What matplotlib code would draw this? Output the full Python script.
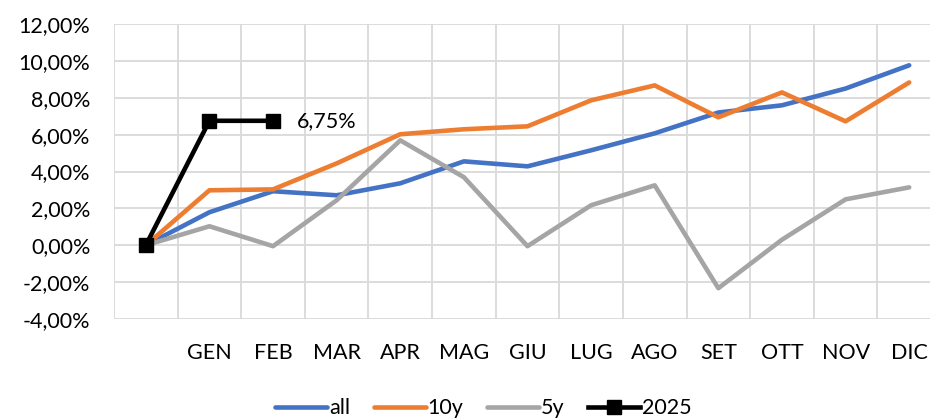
import matplotlib
matplotlib.use("Agg")
import matplotlib.pyplot as plt
from matplotlib.ticker import FuncFormatter, MultipleLocator

# -------------------- DATA --------------------
months = ["", "GEN", "FEB", "MAR", "APR", "MAG", "GIU", "LUG", "AGO", "SET", "OTT", "NOV", "DIC"]
all_vals = [0.0, 1.79, 2.93, 2.71, 3.36, 4.55, 4.28, 5.15, 6.07, 7.20, 7.59, 8.50, 9.76]
y10_vals = [0.0, 2.98, 3.03, 4.44, 6.02, 6.29, 6.45, 7.86, 8.67, 6.94, 8.29, 6.72, 8.83]
y5_vals = [0.0, 1.03, -0.05, 2.44, 5.69, 3.69, -0.05, 2.17, 3.25, -2.33, 0.30, 2.49, 3.14]
y2025_vals = [0.0, 6.75, 6.75]

plt.rcParams['font.family'] = ['Lato', 'DejaVu Sans']
FS = 15.5

fig = plt.figure(figsize=(9.3, 4.2), dpi=100)
ax = fig.add_axes([114 / 930, 1 - 319 / 420, (941 - 114) / 930, (319 - 24) / 420])

x = list(range(len(months)))
ax.plot(x, all_vals, color="#4472C4", lw=3.3, label="all", solid_capstyle="round", zorder=3)
ax.plot(x, y10_vals, color="#ED7D31", lw=3.3, label="10y", solid_capstyle="round", zorder=3)
ax.plot(x, y5_vals, color="#A5A5A5", lw=3.3, label="5y", solid_capstyle="round", zorder=3)
ax.plot(x[:len(y2025_vals)], y2025_vals, color="black", lw=3.3, marker="s", markersize=10,
        label="2025", zorder=4)

# label on last 2025 point
ax.annotate(f"{y2025_vals[-1]:.2f}%".replace(".", ","),
            (len(y2025_vals) - 1, y2025_vals[-1]), xytext=(17, 0),
            textcoords="offset points", ha="left", va="center", fontsize=FS)

# -------------------- AXES --------------------
ax.set_xlim(-0.5, len(months) - 0.5)
ax.set_ylim(-4, 12)
ax.yaxis.set_major_locator(MultipleLocator(2))
ax.yaxis.set_major_formatter(FuncFormatter(lambda v, p: f"{v:.2f}%".replace(".", ",")))
ax.set_xticks(x)
ax.set_xticklabels(months)
ax.set_xticks([i - 0.5 for i in range(len(months) + 1)], minor=True)
ax.tick_params(axis="both", which="both", length=0, labelsize=FS)
ax.tick_params(axis="x", pad=17)
ax.tick_params(axis="y", pad=17)

ax.grid(True, axis="y", which="major", color="#D9D9D9", lw=1.3)
ax.grid(True, axis="x", which="minor", color="#D9D9D9", lw=1.3)
ax.grid(False, axis="x", which="major")
for s in ax.spines.values():
    s.set_visible(False)
ax.set_axisbelow(True)

fig.legend(loc="center", bbox_to_anchor=(0.52, 0.028), ncol=4, frameon=False,
           fontsize=FS, handlelength=2.4, handletextpad=0.1, columnspacing=1.1)

fig.savefig("out.png", dpi=100)
